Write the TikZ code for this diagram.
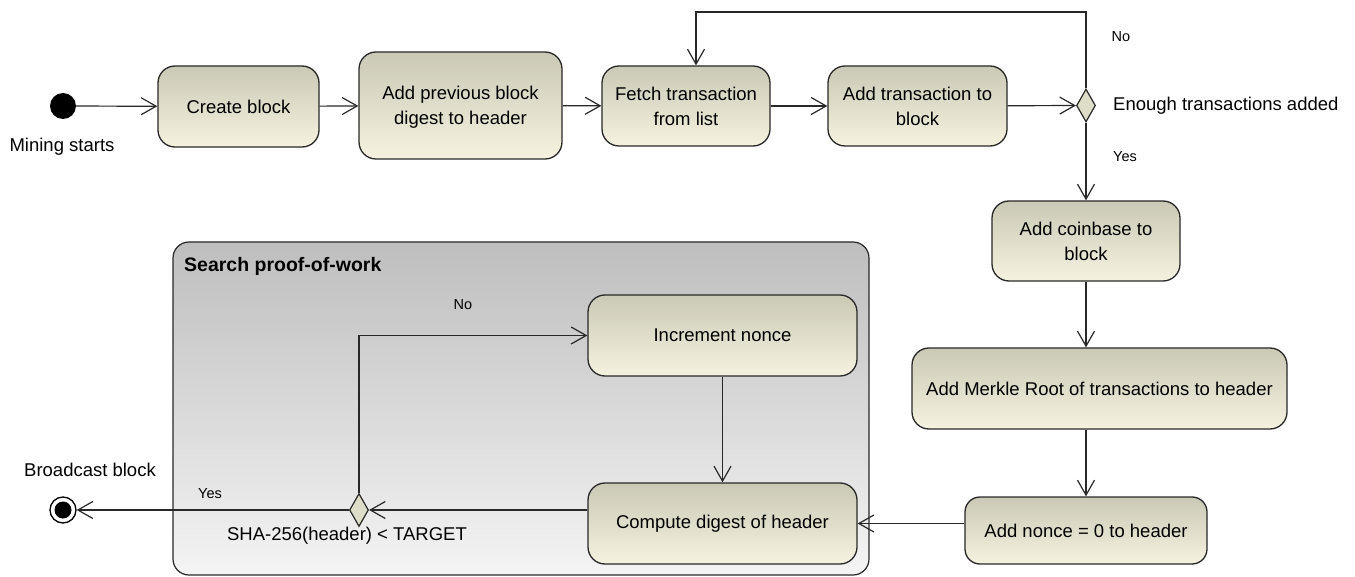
\documentclass[tikz,border=0pt]{standalone}
\usepackage{fontspec}
\setmainfont{Liberation Sans}
\usetikzlibrary{arrows.meta,shapes.geometric}

\definecolor{boxtop}{RGB}{202,201,181}
\definecolor{boxbot}{RGB}{245,243,224}
\definecolor{grouptop}{RGB}{190,190,190}
\definecolor{groupbot}{RGB}{244,244,244}
\definecolor{edge}{RGB}{40,40,40}
\definecolor{decfill}{RGB}{222,221,200}

\tikzset{
  act/.style={draw=edge, line width=1.3pt, rounded corners=17pt,
    top color=boxtop, bottom color=boxbot, align=center, inner sep=0pt,
    font=\fontsize{18.5}{25}\selectfont},
  twoline/.style={text depth=0pt},
  decision/.style={diamond, draw=edge, line width=1.2pt, fill=decfill,
    minimum width=19pt, minimum height=33pt, inner sep=0pt},
  flow/.style={draw=edge, line width=1.2pt,
    -{Straight Barb[length=15pt,width=17pt,line width=1.2pt]}},
  lbl/.style={font=\fontsize{18.5}{22}\selectfont, inner sep=0pt},
  small/.style={font=\fontsize{14.5}{16}\selectfont, inner sep=0pt},
}

\begin{document}
\begin{tikzpicture}[x=1pt,y=-1pt]
\useasboundingbox (0,0) rectangle (1355,577);

% composite state for the nonce search
\path[draw=edge, line width=1.2pt, rounded corners=16pt,
  top color=grouptop, bottom color=groupbot] (173,242) rectangle (869,575);
\node[anchor=west, font=\bfseries\fontsize{19.5}{22}\selectfont, inner sep=0pt]
  (grouptitle) at (184,266) {Search proof-of-work};

% initial and final states
\node[circle, fill=black, minimum size=26pt, inner sep=0pt] (start) at (63,106) {};
\node[lbl] (startlbl) at (62,147) {Mining starts};
\node[circle, draw=black, line width=1.3pt, fill=white, minimum size=26pt, inner sep=0pt] (final) at (63,510) {};
\node[circle, fill=black, minimum size=17pt, inner sep=0pt] (finaldot) at (final) {};
\node[lbl] (finallbl) at (90,470) {Broadcast block};

% actions
\node[act, minimum width=161pt, minimum height=81pt] (create) at (238.5,106.5) {Create block};
\node[act, twoline, minimum width=203pt, minimum height=107pt] (prev) at (460.5,105.5) {Add previous block\\digest to header};
\node[act, twoline, minimum width=168pt, minimum height=80pt] (fetch) at (686,106) {Fetch transaction\\from list};
\node[act, twoline, minimum width=179pt, minimum height=80pt] (addtx) at (917.5,106) {Add transaction to\\block};
\node[act, twoline, minimum width=188pt, minimum height=80pt] (coinbase) at (1086,241) {Add coinbase to\\block};
\node[act, minimum width=375pt, minimum height=81pt] (merkle) at (1099.5,388.5) {Add Merkle Root of transactions to header};
\node[act, minimum width=242pt, minimum height=67pt, rounded corners=15pt] (nonce) at (1086,530.5) {Add nonce = 0 to header};
\node[act, minimum width=269pt, minimum height=81pt] (increment) at (722.5,335.5) {Increment nonce};
\node[act, minimum width=269pt, minimum height=81pt] (compute) at (722.5,523.5) {Compute digest of header};

% decisions
\node[decision] (enough) at (1086,105.5) {};
\node[lbl, anchor=west] (enoughlbl) at (1113,105.5) {Enough transactions added};
\node[decision] (target) at (359,510) {};
\node[lbl] (targetlbl) at (347,536) {SHA-256(header) < TARGET};

% guard labels
\node[small] (no1) at (1121,37) {No};
\node[small] (yes1) at (1125,157) {Yes};
\node[small] (no2) at (463,305) {No};
\node[small] (yes2) at (210,494) {Yes};

\coordinate (looptop) at (1086,12);

% transitions
\draw[flow] (start) -- (create);
\draw[flow] (create) -- (prev);
\draw[flow] (prev) -- (fetch);
\draw[flow] (fetch) -- (addtx);
\draw[flow] (addtx) -- (enough);
\draw[flow] (enough.north) -- (looptop) -| ([xshift=10pt]fetch.north);
\draw[flow] (enough.south) -- (coinbase.north);
\draw[flow] (coinbase.south) -- (coinbase.south |- merkle.north);
\draw[flow] (merkle.south -| nonce.north) -- (nonce.north);
\draw[flow] (nonce.west |- compute.east) -- (compute.east);
\draw[flow] (compute.west |- target.east) -- (target.east);
\draw[flow] (target.west) -- (final.east);
\draw[flow] (target.north) |- (increment.west);
\draw[flow] (increment.south) -- (compute.north);
\end{tikzpicture}
\end{document}
